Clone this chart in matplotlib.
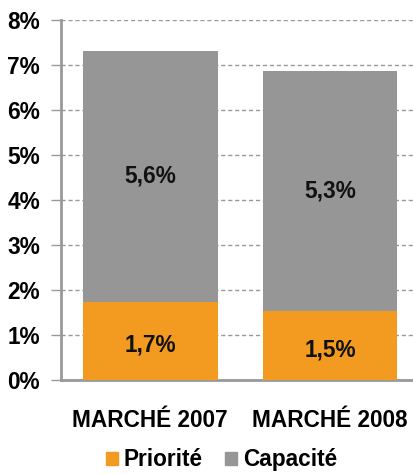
import matplotlib
matplotlib.use("Agg")
import matplotlib.pyplot as plt
from matplotlib.patches import Patch

plt.rcParams['font.family'] = ['Liberation Sans', 'DejaVu Sans']

categories = ["MARCHÉ 2007", "MARCHÉ 2008"]
priorite = [1.74, 1.53]
capacite = [5.58, 5.34]
yticks = [0, 1, 2, 3, 4, 5, 6, 7, 8]

c_orange = "#F39A20"
c_gray = "#969696"

fig = plt.figure(figsize=(4.14, 4.75), dpi=100)
ax = fig.add_axes([0.147, 0.2, 0.853, 0.758])

x = list(range(len(categories)))
ax.bar(x, priorite, width=0.75, color=c_orange, zorder=3)
ax.bar(x, capacite, width=0.75, bottom=priorite, color=c_gray, zorder=3)

fmt = lambda v: f"{v:.1f}".replace(".", ",") + "%"
for i in x:
    ax.text(i, priorite[i] / 2 - 0.1, fmt(priorite[i]), ha="center", va="center",
            fontsize=16.3, fontweight="bold", color="#111111", zorder=4)
    ax.text(i, priorite[i] + capacite[i] / 2, fmt(capacite[i]), ha="center", va="center",
            fontsize=16.3, fontweight="bold", color="#111111", zorder=4)

ax.set_ylim(0, 8)
ax.set_xlim(-0.497, 1.467)
ax.set_yticks(yticks)
ax.set_yticklabels([f"{t}%" for t in yticks], fontsize=16.3, fontweight="bold")
ax.set_xticks(x)
ax.set_xticklabels(categories, fontsize=16.3, fontweight="bold")
ax.tick_params(axis="x", length=0, pad=21)
ax.tick_params(axis="y", length=7, width=1, color="#999999", pad=8)

ax.yaxis.grid(True, linestyle=(0, (3, 2)), color="#999999", linewidth=1, zorder=0)
for s in ["top", "right"]:
    ax.spines[s].set_visible(False)
ax.spines["left"].set_color("#999999")
ax.spines["left"].set_linewidth(2)
ax.spines["bottom"].set_color("#999999")
ax.spines["bottom"].set_linewidth(2)

handles = [Patch(color=c_orange, label="Priorité"), Patch(color=c_gray, label="Capacité")]
fig.legend(handles=handles, loc="center", bbox_to_anchor=(0.535, 0.032), ncol=2,
           frameon=False, prop={"size": 16.3, "weight": "bold"},
           handlelength=0.53, handleheight=0.53, handletextpad=0.25, columnspacing=1.0)

fig.savefig("out.png", dpi=100)
